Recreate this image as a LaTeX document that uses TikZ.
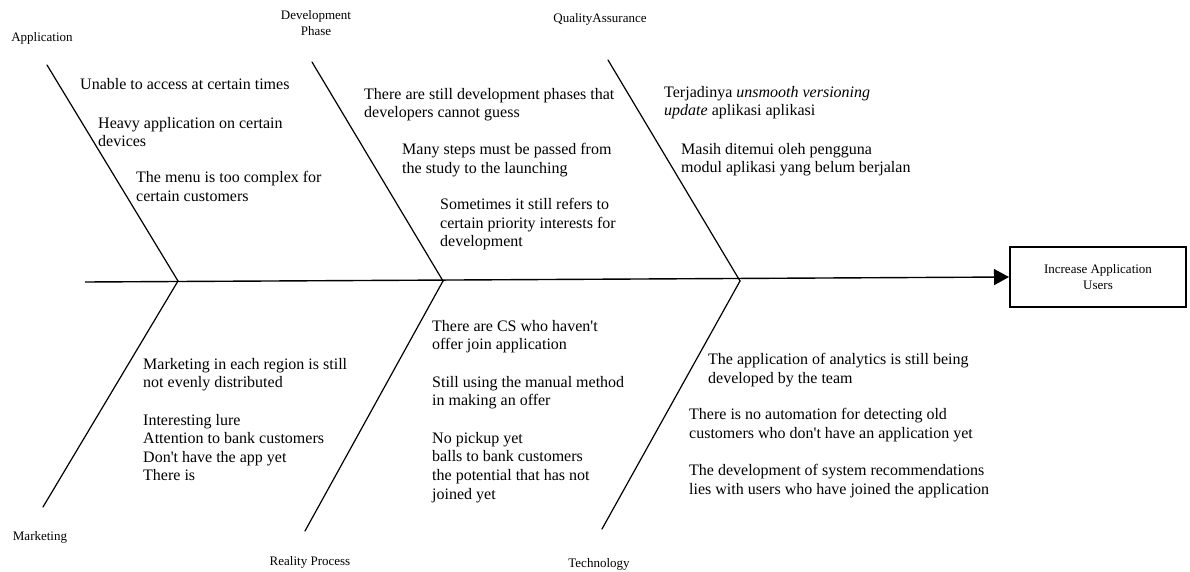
\documentclass[tikz,border=0pt]{standalone}
\usepackage{fontspec}
\setmainfont{Liberation Serif}
\usetikzlibrary{arrows.meta}
\tikzset{
  bone/.style={line width=1.2pt, line cap=round},
  spine/.style={line width=1.4pt, -{Triangle[length=15pt,width=16pt]}},
  cause/.style={anchor=north west, inner sep=0pt, align=left, font=\fontsize{16}{18.6}\selectfont},
  catlabel/.style={inner sep=0pt, align=center, font=\fontsize{13}{16}\selectfont},
  effect/.style={draw, line width=2pt, minimum width=176pt, minimum height=60pt, inner sep=0pt, align=center, font=\fontsize{13}{16}\selectfont}
}
\begin{document}
\begin{tikzpicture}[x=1pt,y=-1pt]
\useasboundingbox (0,0) rectangle (1190,572);
% effect box
\node[effect] (effect) at (1098,277) {Increase Application\\Users};
% spine
\coordinate (tail) at (85,282);
\coordinate (j1) at (178,281);
\coordinate (j2) at (443,281);
\coordinate (j3) at (740,281);
\draw[spine] (tail) -- (effect.west);
% bone ends
\coordinate (t1) at (47,65);
\coordinate (t2) at (312,62);
\coordinate (t3) at (608,60);
\coordinate (b1) at (43,507);
\coordinate (b2) at (305,531);
\coordinate (b3) at (602,529);
\draw[bone] (t1) -- (j1);
\draw[bone] (t2) -- (j2);
\draw[bone] (t3) -- (j3);
\draw[bone] (b1) -- (j1);
\draw[bone] (b2) -- (j2);
\draw[bone] (b3) -- (j3);
% category labels
\node[catlabel] (lapp) at (42,38) {Application};
\node[catlabel] (ldev) at (316,23) {Development\\Phase};
\node[catlabel] (lqa) at (600,19) {QualityAssurance};
\node[catlabel] (lmkt) at (40,537) {Marketing};
\node[catlabel] (lrp) at (310,562) {Reality Process};
\node[catlabel] (ltech) at (599,564) {Technology};
% Application causes
\node[cause] (a1) at (80,78) {Unable to access at certain times};
\node[cause] (a2) at (98,117) {Heavy application on certain\\devices};
\node[cause] (a3) at (136,171) {The menu is too complex for\\certain customers};
% Development causes
\node[cause] (d1) at (364,88) {There are still development phases that\\developers cannot guess};
\node[cause] (d2) at (402,143) {Many steps must be passed from\\the study to the launching};
\node[cause] (d3) at (440,198) {Sometimes it still refers to\\certain priority interests for\\development};
% QA causes
\node[cause] (q1) at (664,86) {Terjadinya \textit{unsmooth versioning}\\\textit{update} aplikasi aplikasi};
\node[cause] (q2) at (681,143) {Masih ditemui oleh pengguna\\modul aplikasi yang belum berjalan};
% Marketing causes
\node[cause] (m1) at (143,358) {Marketing in each region is still\\not evenly distributed\\[18.6pt]Interesting lure\\Attention to bank customers\\Don\textquotesingle t have the app yet\\There is};
% Reality process causes
\node[cause] (r1) at (432,320) {There are CS who haven\textquotesingle t\\offer join application};
\node[cause] (r2) at (432,376) {Still using the manual method\\in making an offer};
\node[cause] (r3) at (432,432) {No pickup yet\\balls to bank customers\\the potential that has not\\joined yet};
% Technology causes
\node[cause] (c1) at (708,353) {The application of analytics is still being\\developed by the team};
\node[cause] (c2) at (689,408) {There is no automation for detecting old\\customers who don\textquotesingle t have an application yet};
\node[cause] (c3) at (689,464) {The development of system recommendations\\lies with users who have joined the application};
\end{tikzpicture}
\end{document}
